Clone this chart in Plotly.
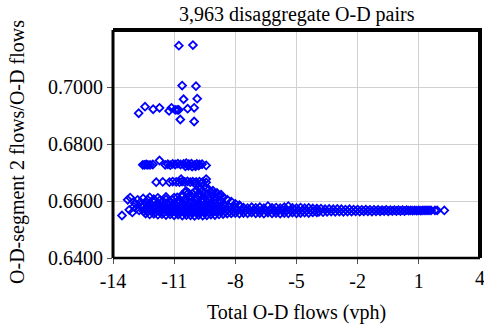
import plotly.graph_objects as go

title_text = "3,963 disaggregate O-D pairs"
x_title = "Total O-D flows (vph)"
y_title = "O-D-segment 2 flows/O-D flows"
x_ticks = [-14, -11, -8, -5, -2, 1, 4]
y_ticks = [0.64, 0.66, 0.68, 0.70]
y_tick_text = ["0.6400", "0.6600", "0.6800", "0.7000"]

# isolated high points
out_x = [-10.77, -10.08, -10.61, -9.93, -10.54, -9.87, -12.43, -12.74, -12.03, -11.72,
         -11.25, -11.13, -10.95, -10.85, -10.78, -10.34, -10.02, -10.70, -10.02]
out_y = [0.7145, 0.7147, 0.7005, 0.7003, 0.6957, 0.6959, 0.6931, 0.6908, 0.6922, 0.6927,
         0.6916, 0.6927, 0.6920, 0.6920, 0.6920, 0.6924, 0.6927, 0.6886, 0.6879]

# band near 0.673
b673_x = [-12.54, -12.46, -12.37, -12.29, -12.18, -12.05, -11.72, -11.44, -11.31, -11.19,
          -11.07, -10.95, -10.82, -10.69, -10.54, -10.41, -10.28, -10.15, -10.00, -9.89,
          -9.76, -9.63, -9.43, -10.45, -10.30, -10.12, -9.95, -9.80]
b673_y = [0.6727, 0.6727, 0.6728, 0.6727, 0.6727, 0.6728, 0.6742, 0.6727, 0.6729, 0.6726,
          0.6730, 0.6728, 0.6731, 0.6728, 0.6730, 0.6733, 0.6729, 0.6731, 0.6727, 0.6730,
          0.6728, 0.6729, 0.6725, 0.6722, 0.6723, 0.6721, 0.6722, 0.6724]

# band near 0.667
b667_x = [-11.88, -11.56, -11.23, -11.07, -10.90, -10.74, -10.61, -10.48, -10.35, -10.21,
          -10.09, -9.92, -9.76, -9.60, -9.43, -9.43, -10.66, -10.00, -9.68]
b667_y = [0.6666, 0.6667, 0.6666, 0.6668, 0.6667, 0.6666, 0.6668, 0.6667, 0.6669, 0.6666,
          0.6668, 0.6667, 0.6668, 0.6666, 0.6665, 0.6677, 0.6677, 0.6663, 0.6662]

# sparse left edge of main cluster
left_x = [-13.56, -13.28, -13.16, -13.20, -12.98, -12.92, -12.79, -12.59, -12.72, -12.86,
          -12.65, -12.52, -13.05]
left_y = [0.6549, 0.6604, 0.6612, 0.6569, 0.6580, 0.6592, 0.6604, 0.6580, 0.6567, 0.6574,
          0.6596, 0.6609, 0.6560]

# dense main cluster
core_x = [
    -12.4, -12.2, -12.0, -11.8, -11.6, -11.4, -11.2, -11.0, -10.8, -10.6, -10.4, -10.2,
    -10.0, -9.8, -9.6, -9.4, -9.2, -9.0, -8.8, -8.6, -8.4, -8.2,
    -12.5, -12.3, -12.1, -11.9, -11.7, -11.5, -11.3, -11.1, -10.9, -10.7, -10.5, -10.3,
    -10.1, -9.9, -9.7, -9.5, -9.3, -9.1, -8.9, -8.7, -8.5, -8.3, -8.1,
    -12.4, -12.2, -12.0, -11.8, -11.6, -11.4, -11.2, -11.0, -10.8, -10.6, -10.4, -10.2,
    -10.0, -9.8, -9.6, -9.4, -9.2, -9.0, -8.8, -8.6, -8.4, -8.2,
    -12.5, -12.3, -12.1, -11.9, -11.7, -11.5, -11.3, -11.1, -10.9, -10.7, -10.5, -10.3,
    -10.1, -9.9, -9.7, -9.5, -9.3, -9.1, -8.9, -8.7, -8.5, -8.3,
    -12.4, -12.2, -12.0, -11.8, -11.6, -11.4, -11.2, -11.0, -10.8, -10.6, -10.4, -10.2,
    -10.0, -9.8, -9.6, -9.4, -9.2, -9.0, -8.8, -8.6,
    -12.3, -12.0, -11.7, -11.4, -11.1, -10.8, -10.5, -10.2, -9.9, -9.6, -9.3, -9.0, -8.7,
    -12.2, -11.8, -11.4, -11.0, -10.6, -10.2, -9.8, -9.4, -9.0,
]
core_y = [
    0.6556, 0.6553, 0.6555, 0.6552, 0.6554, 0.6551, 0.6553, 0.6550, 0.6552, 0.6549, 0.6551, 0.6550,
    0.6548, 0.6551, 0.6549, 0.6550, 0.6552, 0.6551, 0.6553, 0.6554, 0.6556, 0.6557,
    0.6564, 0.6562, 0.6565, 0.6561, 0.6563, 0.6560, 0.6564, 0.6562, 0.6561, 0.6563, 0.6560, 0.6562,
    0.6561, 0.6563, 0.6560, 0.6562, 0.6561, 0.6563, 0.6562, 0.6564, 0.6562, 0.6563, 0.6564,
    0.6574, 0.6572, 0.6575, 0.6571, 0.6573, 0.6572, 0.6574, 0.6571, 0.6573, 0.6572, 0.6574, 0.6571,
    0.6573, 0.6572, 0.6574, 0.6573, 0.6571, 0.6574, 0.6572, 0.6573, 0.6571, 0.6572,
    0.6584, 0.6582, 0.6585, 0.6581, 0.6583, 0.6582, 0.6584, 0.6581, 0.6583, 0.6582, 0.6584, 0.6583,
    0.6582, 0.6584, 0.6583, 0.6585, 0.6584, 0.6583, 0.6582, 0.6581, 0.6580, 0.6579,
    0.6594, 0.6592, 0.6595, 0.6591, 0.6593, 0.6592, 0.6594, 0.6591, 0.6593, 0.6592, 0.6594, 0.6593,
    0.6594, 0.6595, 0.6596, 0.6597, 0.6595, 0.6593, 0.6591, 0.6589,
    0.6604, 0.6606, 0.6603, 0.6605, 0.6604, 0.6602, 0.6605, 0.6606, 0.6607, 0.6608, 0.6607, 0.6604, 0.6601,
    0.6613, 0.6611, 0.6614, 0.6612, 0.6615, 0.6616, 0.6617, 0.6618, 0.6614,
]

# upward bulge around -10 to -9
hump_x = [-10.60, -10.30, -10.00, -9.80, -9.60, -9.45, -9.30, -9.20, -9.00, -8.80,
          -9.90, -10.20, -9.70, -9.50, -10.45, -9.10, -8.90, -8.60, -8.40, -8.20,
          -8.00, -7.80, -10.42, -10.85, -9.35, -9.65, -10.10, -8.70]
hump_y = [0.6622, 0.6628, 0.6632, 0.6625, 0.6635, 0.6645, 0.6640, 0.6630, 0.6625, 0.6618,
          0.6638, 0.6620, 0.6643, 0.6628, 0.6630, 0.6636, 0.6628, 0.6612, 0.6605, 0.6598,
          0.6590, 0.6585, 0.6635, 0.6613, 0.6622, 0.6620, 0.6626, 0.6622]

# long thin tail of the distribution
tail_x = [
    -8.0, -7.8, -7.6, -7.4, -7.2, -7.0, -6.8, -6.6, -6.4, -6.2, -6.0, -5.8, -5.6, -5.4,
    -5.2, -5.0, -4.8, -4.6, -4.4, -4.2, -4.0,
    -7.9, -7.7, -7.5, -7.3, -7.1, -6.9, -6.7, -6.5, -6.3, -6.1, -5.9, -5.7, -5.5, -5.3,
    -5.1, -4.9, -4.7, -4.5, -4.3, -4.1,
    -8.0, -7.8, -7.6, -7.4, -7.2, -7.0, -6.8, -6.6, -6.4, -6.2, -6.0, -5.8, -5.6, -5.4,
    -5.2, -5.0, -4.8, -4.6, -4.4, -4.2, -4.0,
    -3.9, -3.7, -3.5, -3.3, -3.1, -2.9, -2.7, -2.5, -2.3, -2.1, -1.9, -1.7, -1.5, -1.3,
    -1.1, -0.9, -0.7, -0.5, -0.3, -0.1, 0.1, 0.3, 0.5, 0.7, 0.9, 1.1,
    -4.0, -3.8, -3.6, -3.4, -3.2, -3.0, -2.8, -2.6, -2.4, -2.2, -2.0, -1.8, -1.6, -1.4,
    -1.2, -1.0, -0.8, -0.6, -0.4, -0.2, 0.0, 0.2, 0.4, 0.6, 0.8, 1.0,
    1.2, 1.3, 1.4, 1.5, 1.6, 1.79, 1.9, 2.25,
]
tail_y = [
    0.6558, 0.6556, 0.6558, 0.6557, 0.6559, 0.6557, 0.6558, 0.6556, 0.6559, 0.6557, 0.6558,
    0.6556, 0.6558, 0.6557, 0.6559, 0.6557, 0.6558, 0.6559, 0.6558, 0.6560, 0.6560,
    0.6567, 0.6568, 0.6566, 0.6568, 0.6567, 0.6568, 0.6566, 0.6567, 0.6568, 0.6566, 0.6567,
    0.6568, 0.6566, 0.6567, 0.6568, 0.6566, 0.6567, 0.6566, 0.6567, 0.6566,
    0.6578, 0.6583, 0.6577, 0.6575, 0.6578, 0.6576, 0.6578, 0.6575, 0.6582, 0.6576, 0.6577,
    0.6575, 0.6578, 0.6582, 0.6576, 0.6575, 0.6577, 0.6575, 0.6576, 0.6574, 0.6573,
    0.6562, 0.6561, 0.6562, 0.6563, 0.6562, 0.6563, 0.6562, 0.6563, 0.6563, 0.6564, 0.6563,
    0.6564, 0.6564, 0.6563, 0.6564, 0.6564, 0.6565, 0.6564, 0.6565, 0.6565, 0.6565, 0.6565,
    0.6566, 0.6566, 0.6566, 0.6566,
    0.6572, 0.6573, 0.6571, 0.6572, 0.6571, 0.6572, 0.6571, 0.6570, 0.6571, 0.6570, 0.6570,
    0.6569, 0.6570, 0.6569, 0.6569, 0.6569, 0.6568, 0.6569, 0.6568, 0.6568, 0.6568, 0.6568,
    0.6568, 0.6567, 0.6567, 0.6567,
    0.6567, 0.6567, 0.6567, 0.6567, 0.6567, 0.6567, 0.6567, 0.6567,
]

xs = out_x + b673_x + b667_x + left_x + core_x + hump_x + tail_x
ys = out_y + b673_y + b667_y + left_y + core_y + hump_y + tail_y

FONT = "Liberation Serif"
TXT = dict(family=FONT, size=20, color="black")

fig = go.Figure()
fig.add_trace(go.Scatter(
    x=xs, y=ys, mode="markers",
    marker=dict(symbol="diamond-open", size=6, color="#0000ff",
                line=dict(color="#0000ff", width=1.8)),
    showlegend=False, hoverinfo="skip",
))

fig.update_layout(
    width=484, height=328,
    margin=dict(l=113, r=4, t=30, b=70),
    font=TXT,
    template="none",
    paper_bgcolor="white", plot_bgcolor="white",
    xaxis=dict(range=[-14, 4], tickvals=x_ticks[:-1], ticktext=[str(v) for v in x_ticks[:-1]],
               showgrid=True, gridcolor="#d0d0d0", gridwidth=1, zeroline=False,
               ticks="outside", ticklen=5, tickcolor="#555555", tickwidth=1,
               showline=False, tickfont=TXT),
    yaxis=dict(range=[0.64, 0.72], tickvals=y_ticks, ticktext=y_tick_text,
               showgrid=True, gridcolor="#d0d0d0", gridwidth=1, zeroline=False,
               ticks="outside", ticklen=5, tickcolor="#555555", tickwidth=1,
               showline=False, tickfont=TXT),
    shapes=[
        dict(type="line", xref="paper", yref="paper", x0=0, x1=0, y0=0, y1=1,
             line=dict(color="black", width=3), layer="above"),
        dict(type="line", xref="paper", yref="paper", x0=0, x1=1, y0=0, y1=0,
             line=dict(color="black", width=2.5), layer="above"),
        dict(type="line", xref="paper", yref="paper", x0=0, x1=1.005, y0=1, y1=1,
             line=dict(color="black", width=4), layer="above"),
        dict(type="line", xref="paper", yref="paper", x0=1, x1=1, y0=0, y1=1.008,
             line=dict(color="black", width=4), layer="above"),
    ],
    annotations=[
        dict(text=title_text, xref="paper", yref="paper", x=0.5, y=1,
             xanchor="center", yanchor="bottom", yshift=2, showarrow=False, font=TXT),
        dict(text=str(x_ticks[-1]), xref="x", yref="paper", x=x_ticks[-1], y=0,
             xanchor="center", yanchor="top", yshift=-7, showarrow=False, font=TXT),
        dict(text=x_title, xref="paper", yref="paper", x=0.5, y=-0.241,
             xanchor="center", yanchor="middle", showarrow=False, font=TXT),
        dict(text=y_title, xref="paper", yref="paper", x=-0.259, y=0.465,
             xanchor="center", yanchor="middle", textangle=-90, showarrow=False, font=TXT),
    ],
)

fig.write_html("out.html")
